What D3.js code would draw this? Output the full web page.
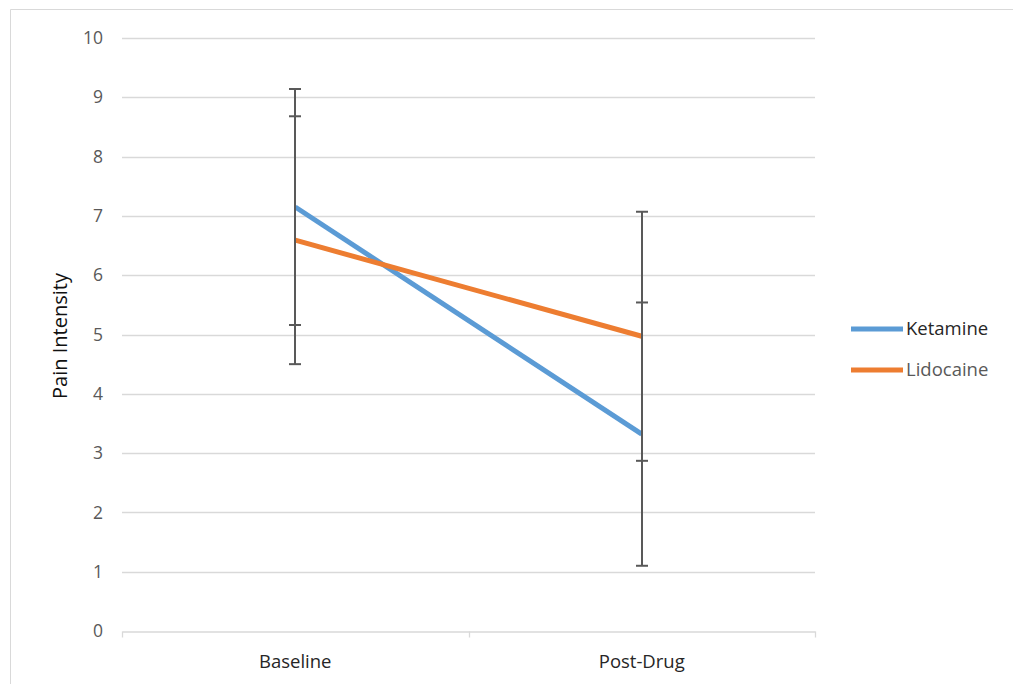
<!DOCTYPE html>
<html><head><meta charset="utf-8">
<script src="https://cdn.jsdelivr.net/npm/d3@7"></script>
<style>body{margin:0;background:#fff}svg{display:block}text{font-family:"Open Sans","Noto Sans",sans-serif}</style>
</head><body><svg id="c" width="1014" height="684"></svg>
<script>
const categories = ["Baseline", "Post-Drug"];
const seriesNames = ["Ketamine", "Lidocaine"];
const ketamine = [7.15, 3.32];
const lidocaine = [6.59, 4.97];
const ketamineErr = [1.99, 2.22];
const lidocaineErr = [2.09, 2.10];
const yTicks = [0,1,2,3,4,5,6,7,8,9,10];
const colors = ["#5b9bd5", "#ed7d31"];

const svg = d3.select("#c");
const W = 1014, H = 684;
const m = {l:122, r:199, t:38, b:53};
const x = d3.scaleBand().domain(categories).range([m.l, W - m.r]);
const y = d3.scaleLinear().domain([0,10]).range([H - m.b, m.t]);

// outer border
svg.append("line").attr("x1",10.5).attr("x2",10.5).attr("y1",9.5).attr("y2",H).attr("stroke","#d9d9d9");
svg.append("line").attr("x1",10.5).attr("x2",1013).attr("y1",9.5).attr("y2",9.5).attr("stroke","#d9d9d9");

// gridlines
svg.append("g").selectAll("line").data(yTicks.slice(1)).join("line")
  .attr("x1", m.l).attr("x2", W - m.r)
  .attr("y1", d => Math.round(y(d))+0.5).attr("y2", d => Math.round(y(d))+0.5)
  .attr("stroke","#d9d9d9").attr("stroke-width",1.3);

// y labels
svg.append("g").selectAll("text").data(yTicks).join("text")
  .attr("x", 103).attr("y", d => y(d)).attr("dy","0.35em").attr("text-anchor","end")
  .attr("font-size",17.5).attr("fill","#595959").text(d => d);

// x axis
const xa = svg.append("g").attr("transform",`translate(0,${Math.round(y(0))+0.5})`)
  .call(d3.axisBottom(x).tickSize(0).tickFormat(""));
xa.select(".domain").attr("stroke","#d9d9d9").attr("stroke-width",1.3);
const bounds = [m.l, ...categories.map(c => x(c) + x.bandwidth())];
xa.selectAll(".vt").data(bounds).join("line").attr("class","vt")
  .attr("x1", d => Math.round(d)+0.5).attr("x2", d => Math.round(d)+0.5).attr("y1",0).attr("y2",6)
  .attr("stroke","#d9d9d9").attr("stroke-width",1.3);
svg.append("g").selectAll("text").data(categories).join("text")
  .attr("x", d => x(d) + x.bandwidth()/2).attr("y", 668)
  .attr("text-anchor","middle").attr("font-size",18.5).attr("fill","#262626").text(d => d);

// y title
svg.append("text").attr("transform","translate(67,336) rotate(-90)")
  .attr("text-anchor","middle").attr("font-size",20).attr("fill","#111").text("Pain Intensity");

const cx = d => x(d) + x.bandwidth()/2;
const series = [
  {name: seriesNames[0], vals: ketamine, err: ketamineErr, color: colors[0]},
  {name: seriesNames[1], vals: lidocaine, err: lidocaineErr, color: colors[1]}
];

// lines
const line = d3.line().x((d,i) => cx(categories[i])).y(d => y(d));
series.forEach(s => {
  svg.append("path").datum(s.vals).attr("d", line).attr("fill","none")
    .attr("stroke", s.color).attr("stroke-width",5).attr("stroke-linecap","butt");
});

// error bars
series.forEach(s => {
  const g = svg.append("g").attr("stroke","#595959").attr("stroke-width",2);
  s.vals.forEach((v,i) => {
    const xc = Math.round(cx(categories[i]));
    g.append("line").attr("x1",xc).attr("x2",xc).attr("y1",y(v+s.err[i])).attr("y2",y(v-s.err[i]));
    [v+s.err[i], v-s.err[i]].forEach(e => {
      g.append("line").attr("x1",xc-6).attr("x2",xc+6).attr("y1",y(e)).attr("y2",y(e));
    });
  });
});

// legend
series.forEach((s,i) => {
  const ly = 329 + i*41;
  svg.append("line").attr("x1",851).attr("x2",903).attr("y1",ly).attr("y2",ly)
    .attr("stroke", s.color).attr("stroke-width",5);
  svg.append("text").attr("x",906).attr("y",ly).attr("dy","0.35em")
    .attr("font-size",18.5).attr("fill", i === 0 ? "#262626" : "#595959").text(s.name);
});
</script></body></html>
